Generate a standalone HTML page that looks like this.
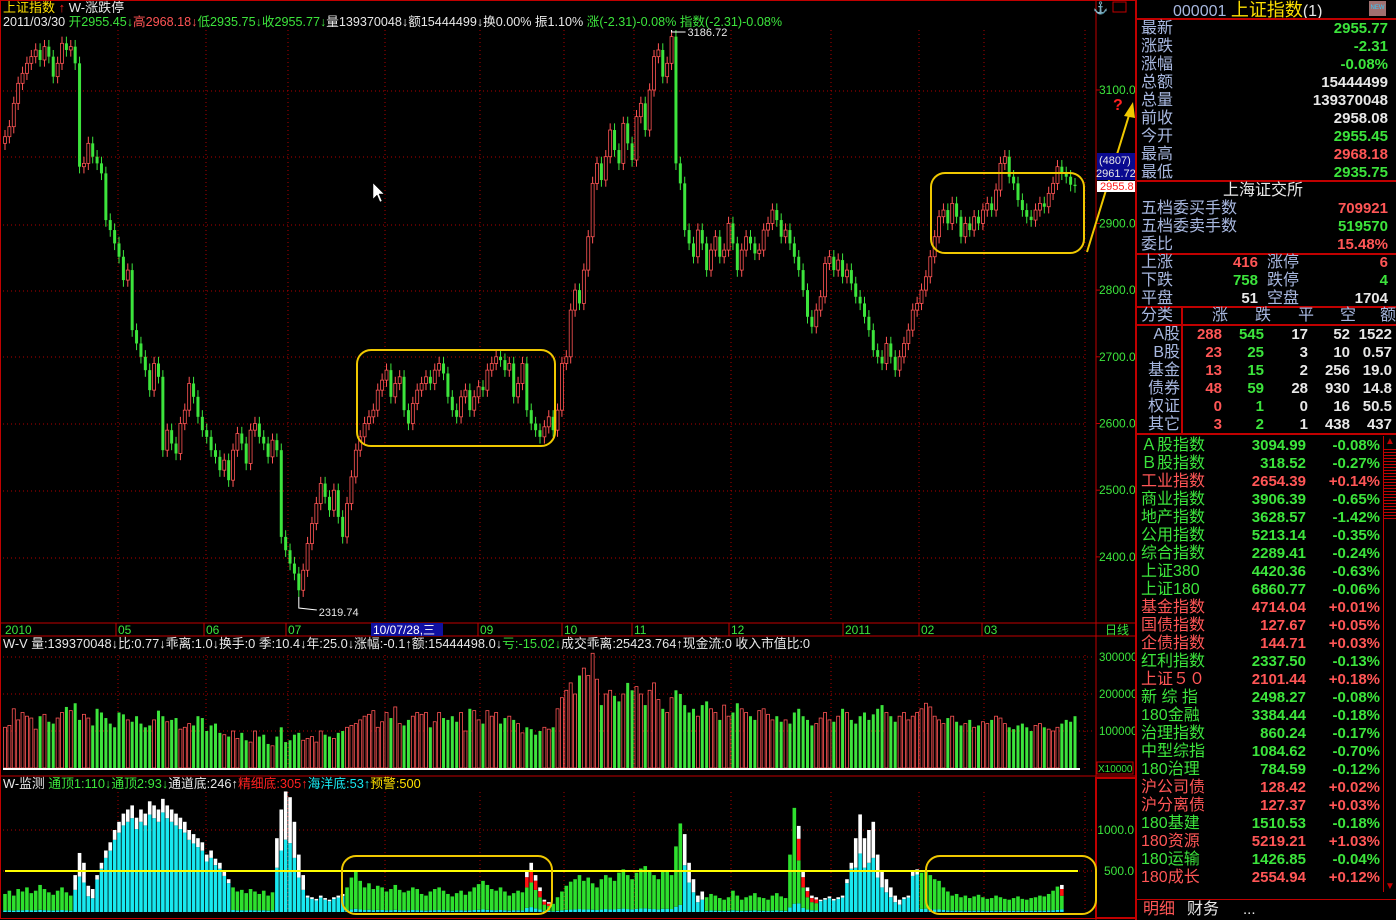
<!DOCTYPE html>
<html><head><meta charset="utf-8">
<style>
body{margin:0;background:#000;width:1396px;height:920px;overflow:hidden;position:relative;font-family:"Liberation Sans","Noto Sans CJK SC",sans-serif;}
svg{position:absolute;left:0;top:0}
.rp{position:absolute;left:1137px;top:0;width:259px;height:920px;}
.r{position:absolute;height:18px;line-height:18px;font-size:15px;white-space:nowrap}
.lb{color:#a8b8e0;font-size:16px}
.g{color:#3ce43c}.rd{color:#ff5656}.w{color:#e8e8e8}.y{color:#ffe000}
.hl{position:absolute;height:2px;background:#c00000;left:0;width:259px}
</style></head><body>
<svg id="chart" width="1396" height="920"></svg>

<div class="rp">
 <div class="r" style="top:1px;left:36px;font-size:16px"><span style="color:#a8b8e0">000001 </span><span class="y" style="font-size:18px">上证指数</span><span class="w">(1)</span></div>
 <div style="position:absolute;left:232px;top:1px;width:17px;height:15px;background:#a07070;color:#3cf;font-size:6px;line-height:15px;text-align:center">NEW</div>
 <div class="hl" style="top:18px"></div>
 <div class="hl" style="top:180px"></div>
 <div class="hl" style="top:253px"></div>
 <div class="hl" style="top:306px"></div>
 <div class="hl" style="top:324px"></div>
 <div class="hl" style="top:433px"></div>
 <div style="position:absolute;left:44px;top:307px;width:2px;height:127px;background:#c00000"></div>
 <div style="position:absolute;left:-2px;top:0;width:2px;height:920px;background:#c00000"></div>
 <div id="rows"></div>
 <div style="position:absolute;left:246px;top:436px;width:12px;height:456px;border-left:1px solid #c00000">
  <div style="color:#c00000;font-size:10px;text-align:center">▲</div>
  <div style="margin:2px 0;height:70px;background:repeating-linear-gradient(#c00000 0 1px,#000 1px 3px)"></div>
  <div style="position:absolute;bottom:0;width:12px;color:#c00000;font-size:10px;text-align:center">▼</div>
 </div>
 <div style="position:absolute;left:0;top:899px;width:259px;height:1px;background:#c00000"></div>
 <div class="r rd" style="top:901px;left:6px;font-size:16px">明细</div>
 <div class="r w" style="top:901px;left:50px;font-size:16px">财务</div>
 <div class="r w" style="top:901px;left:106px">...</div>
</div>

<script>
// ---------- data ----------
const closes=[3030,3045,3080,3110,3125,3140,3150,3160,3145,3165,3150,3120,3140,3170,3160,3165,3140,
2985,2990,3020,3000,2990,2975,2905,2890,2870,2850,2815,2830,2740,2720,2700,2680,2650,2690,2670,2560,
2590,2570,2555,2600,2620,2660,2640,2610,2590,2580,2560,2550,2530,2545,2515,2560,2585,2570,2540,2590,
2600,2580,2570,2550,2575,2560,2430,2410,2390,2375,2350,2380,2420,2450,2480,2510,2490,2470,2500,2460,
2430,2480,2520,2560,2580,2600,2610,2620,2650,2665,2680,2640,2660,2670,2620,2600,2630,2650,2660,2670,
2660,2680,2690,2675,2640,2620,2610,2640,2650,2620,2640,2655,2650,2680,2690,2700,2695,2680,2690,2640,
2660,2690,2620,2600,2590,2580,2595,2610,2590,2620,2690,2700,2770,2800,2780,2830,2880,2960,2990,2965,
3000,3040,3010,2990,3050,3020,2995,3060,3080,3040,3100,3150,3160,3120,3140,3180,2990,2960,2890,2870,
2850,2890,2870,2830,2860,2880,2850,2860,2900,2870,2830,2860,2880,2870,2855,2860,2890,2900,2920,2905,
2880,2890,2870,2850,2830,2800,2760,2745,2770,2790,2840,2850,2830,2845,2820,2830,2810,2790,2780,2760,
2740,2710,2700,2690,2720,2700,2680,2700,2720,2740,2770,2780,2800,2820,2850,2880,2910,2920,2900,2930,
2910,2880,2900,2890,2910,2900,2920,2930,2920,2950,2990,3000,2970,2960,2935,2920,2910,2905,2920,2930,
2925,2945,2960,2985,2975,2970,2958,2956];
const volumes=[110,115,160,130,150,140,135,105,140,145,125,120,135,150,165,155,
175,130,145,135,115,160,150,135,120,110,150,145,130,125,140,
120,110,115,130,155,140,125,130,135,105,110,120,115,140,135,
100,115,120,95,90,85,100,80,95,75,70,100,85,90,65,60,
85,110,70,75,90,95,75,80,85,70,100,90,85,80,95,100,110,115,120,
130,140,145,155,110,125,150,135,165,120,115,130,140,150,145,150,110,125,150,135,
130,140,125,150,100,160,155,130,120,155,140,150,120,135,140,130,120,95,110,105,90,100,110,105,110,
160,190,210,230,200,250,270,250,310,240,170,200,210,195,180,200,230,210,220,200,170,210,230,185,160,150,190,210,200,170,
150,160,140,170,180,160,150,130,170,140,150,175,160,150,140,130,155,160,145,130,
140,125,130,120,150,160,140,130,115,120,135,150,130,125,140,160,150,130,120,140,150,130,145,160,170,150,140,125,140,150,
130,140,150,160,175,165,140,130,120,135,140,125,115,120,130,110,115,125,120,130,140,135,120,110,105,115,120,110,100,115,120,110,105,100,110,120,130,125,140,150,160,170,155,130];
const monitor=[220,260,200,280,250,300,230,260,330,280,240,210,260,300,240,200,
450,720,600,320,280,
450,600,750,850,1000,1100,1200,1250,1300,1150,1250,1200,1350,1300,1250,1380,1300,1250,1200,1150,1100,1000,950,900,850,700,750,650,600,500,400,
300,250,270,230,280,250,220,260,200,240,
900,1250,1470,1400,1100,700,450,
200,180,160,200,170,150,180,200,220,
300,420,500,380,300,350,280,320,300,250,280,330,270,240,260,300,280,220,200,250,280,300,260,220,190,230,260,210,250,300,340,380,330,280,260,300,250,200,230,260,240,
500,600,450,300,
150,120,100,180,250,320,370,
400,450,380,420,350,300,400,450,420,380,480,520,450,400,480,530,560,500,450,400,500,
500,450,800,1080,950,600,400,
200,250,180,220,200,170,150,180,260,200,150,180,200,230,180,170,150,200,230,190,170,
700,1270,1050,500,300,
200,180,150,170,190,160,180,200,
400,600,900,1190,900,1000,1100,700,500,400,300,
200,150,180,200,
500,520,480,510,450,400,380,300,
250,200,220,180,200,170,190,210,180,160,170,200,180,160,150,170,190,160,150,170,180,200,190,220,260,310,330];
// segments of monitor bar kind: [startIndex, kind]
const monKinds=[[0,'g'],[16,'w'],[21,'c'],[52,'g'],[62,'w'],[69,'c'],[78,'g'],[119,'r'],[125,'g'],[155,'w'],[160,'g'],[181,'r'],[186,'c'],[194,'w'],[205,'c'],[209,'g'],[241,'r']];
const priceTicks=[3100,2900,2800,2700,2600,2500,2400];
const volTicks=[300000,200000,100000];
const monTicks=[1000,500];
const dateLabels=['2010','05','06','07','09','10','11','12','2011','02','03'];

// ---------- axes ----------
const X0=5, X1=1075;
const step=(X1-X0)/(closes.length-1);
const xOf=i=>X0+i*step;
const yP=p=>90+(3100-p)*0.667;
const yV=v=>768-v*0.00037;
const yM=m=>912-m*0.082;

const NS='http://www.w3.org/2000/svg';
const svg=document.getElementById('chart');
function mk(tag,attrs,parent){const e=document.createElementNS(NS,tag);for(const k in attrs)e.setAttribute(k,attrs[k]);(parent||svg).appendChild(e);return e;}
function txt(s,x,y,fill,size,anchor,parent){const t=mk('text',{x:x,y:y,fill:fill,'font-size':size||11,'text-anchor':anchor||'start','font-family':'Liberation Sans, Noto Sans CJK SC, sans-serif'},parent);t.textContent=s;return t;}

const RED='#c00000';
mk('rect',{x:0.5,y:0.5,width:1135,height:918,fill:'none',stroke:RED});
mk('line',{x1:1096,y1:0,x2:1096,y2:920,stroke:RED});
[623,636,776].forEach(y=>mk('line',{x1:0,y1:y,x2:1136,y2:y,stroke:RED}));
mk('rect',{x:1096,y:778,width:40,height:140,fill:'none',stroke:RED,'stroke-width':2});

const gPrice=mk('g',{});


[91,157,225,291,357,424,491,558].forEach(y=>mk('line',{x1:3,y1:y,x2:1085,y2:y,stroke:'#b00000','stroke-dasharray':'1,3'},gPrice));
const vgrid=[118,206,288,385,480,564,634,731,831,919,984,1085];
vgrid.forEach(x=>{mk('line',{x1:x,y1:30,x2:x,y2:620,stroke:'#b00000','stroke-dasharray':'1,3'},gPrice);
 mk('line',{x1:x,y1:655,x2:x,y2:770,stroke:'#b00000','stroke-dasharray':'1,3'},gPrice);
 mk('line',{x1:x,y1:792,x2:x,y2:912,stroke:'#b00000','stroke-dasharray':'1,3'},gPrice);});
[657,694,731].forEach(y=>mk('line',{x1:3,y1:y,x2:1095,y2:y,stroke:'#b00000','stroke-dasharray':'1,3'}));
[830,871].forEach(y=>mk('line',{x1:3,y1:y,x2:1095,y2:y,stroke:'#b00000','stroke-dasharray':'1,3'}));

priceTicks.forEach(p=>{const t=txt(p.toFixed(1),1099,yP(p)+4,'#3ce43c',12);
 
 
 mk('line',{x1:1096,y1:yP(p),x2:1100,y2:yP(p),stroke:RED});});
volTicks.forEach(v=>{const t=txt(String(v),1099,yV(v)+4,'#3ce43c',11.5);
 
 });
monTicks.forEach(m=>{const t=txt(m.toFixed(1),1134,yM(m)+4,'#3ce43c',12,'end');
 
 });
mk('rect',{x:1097,y:762,width:36,height:12,fill:'none',stroke:RED});
txt('X10000',1098,772,'#3ce43c',10);

const dateX=[5,118,206,288,480,564,634,731,845,921,984];
dateLabels.forEach((d,i)=>{const t=txt(d,dateX[i],634,'#3ce43c',12);
 
 
 if(i>0)mk('line',{x1:dateX[i]-2,y1:623,x2:dateX[i]-2,y2:636,stroke:RED});});
mk('rect',{x:371,y:623,width:72,height:13,fill:'#1010a0'});
txt('10/07/28,三',373,634,'#fff',12);
const dl=txt('日线',1105,634,'#3ce43c',12);



const gC=mk('g',{});


closes.forEach((c,i)=>{
 const o=i===0?c-10:closes[i-1];
 const up=c>=o, x=xOf(i);
 const col=up?'#ff5454':'#3ce43c';
 const hi=Math.max(o,c)+10, lo=Math.min(o,c)-10;
 const w=mk('line',{x1:x,y1:yP(hi),x2:x,y2:yP(lo),stroke:col},gC);
 
 
 const top=yP(Math.max(o,c)), h=Math.max(1,Math.abs(yP(o)-yP(c)));
 const b=mk('rect',{x:x-1.5,y:top,width:3,height:h,fill:up?'#000':col,stroke:col,'stroke-width':up?0.8:0},gC);
 
 
});
let maxI=0,minI=0;closes.forEach((c,i)=>{if(c>closes[maxI])maxI=i;if(c<closes[minI])minI=i;});
mk('polyline',{points:`${xOf(maxI)},${yP(closes[maxI]+10)} ${xOf(maxI)},32 ${xOf(maxI)+14},32`,fill:'none',stroke:'#fff'});
txt('3186.72',xOf(maxI)+16,36,'#e8e8e8',11);
mk('polyline',{points:`${xOf(minI)},${yP(closes[minI]-10)} ${xOf(minI)},608 ${xOf(minI)+18},610`,fill:'none',stroke:'#fff'});
txt('2319.74',xOf(minI)+20,616,'#e8e8e8',11);

const gV=mk('g',{});


volumes.forEach((v,i)=>{if(i>=closes.length)return;
 const o=i===0?closes[0]-10:closes[i-1];const up=closes[i]>=o;
 const col=up?'#ff5454':'#3ce43c';const y=yV(v*1000);
 const r=mk('rect',{x:xOf(i)-1.5,y:y,width:3,height:768-y,fill:up?'#000':col,stroke:col,'stroke-width':up?0.8:0},gV);
 
 });
mk('line',{x1:3,y1:769,x2:1080,y2:769,stroke:'#fff','stroke-width':2});

function kindAt(i){let k='g';monKinds.forEach(s=>{if(i>=s[0])k=s[1];});return k;}
const gM=mk('g',{});


monitor.forEach((m,i)=>{if(i>=closes.length)return;
 const k=kindAt(i),x=xOf(i)-1.8,y=yM(m),h=912-y;
 let parts;
 if(k==='c')parts=[['#18e8f0',0.88],['#fff',0.12]];
 else if(k==='w')parts=[['#18e8f0',0.6],['#fff',0.4]];
 else if(k==='r')parts=[['#18e8f0',0.1],['#2ee02e',0.5],['#ff1010',0.25],['#fff',0.15]];
 else parts=[['#18e8f0',0.08],['#2ee02e',0.92]];
 let yy=912;
 parts.forEach(p=>{const ph=h*p[1];yy-=ph;const r=mk('rect',{x:x,y:yy,width:3.6,height:ph,fill:p[0]},gM);
  
  });
});
mk('line',{x1:5,y1:yM(500),x2:1078,y2:yM(500),stroke:'#ffff00','stroke-width':2});

[[357,350,198,96],[931,173,153,80],[342,856,210,58],[926,856,170,58]].forEach(b=>{
 const r=mk('rect',{x:b[0],y:b[1],width:b[2],height:b[3],rx:14,fill:'none',stroke:'#f0c800','stroke-width':2});
 
 });
mk('line',{x1:1087,y1:252,x2:1130,y2:112,stroke:'#f0c800','stroke-width':2});
mk('polygon',{points:'1133,102 1124,116 1135,118',fill:'#f0c800'});
txt('?',1113,110,'#ff2020',16).setAttribute('font-weight','bold');

mk('rect',{x:1097,y:153,width:39,height:27,fill:'#0a0a90'});
txt('(4807)',1099,164,'#e8e8e8',11);txt('2961.72',1096,177,'#e8e8e8',11);
mk('rect',{x:1097,y:181,width:39,height:11,fill:'#fff'});
txt('2955.8',1100,190,'#ff2020',11);

mk('polygon',{points:'373,183 373,199 377,195 380,202 382,201 379,194 384,194',fill:'#fff',stroke:'#000','stroke-width':0.5});
txt('⚓',1093,12,'#ccc',12);
mk('rect',{x:1113,y:2,width:13,height:10,fill:'none',stroke:RED});

const h1=mk('text',{x:3,y:12,'font-size':13,'font-family':'Liberation Sans, Noto Sans CJK SC, sans-serif'});
h1.innerHTML='<tspan fill="#ffe000">上证指数</tspan><tspan fill="#ff2020"> ↑ </tspan><tspan fill="#e8e8e8">W-涨跌停</tspan>';


const h2=mk('text',{x:3,y:26,'font-size':12.6,'font-family':'Liberation Sans, Noto Sans CJK SC, sans-serif'});
h2.innerHTML='<tspan fill="#e8e8e8">2011/03/30 </tspan><tspan fill="#3ce43c">开2955.45↓</tspan><tspan fill="#ff5454">高2968.18↓</tspan><tspan fill="#3ce43c">低2935.75↓收2955.77↓</tspan><tspan fill="#e8e8e8">量139370048↓额15444499↓换0.00% 振1.10% </tspan><tspan fill="#3ce43c">涨(-2.31)-0.08% 指数(-2.31)-0.08%</tspan>';


const h3=mk('text',{x:3,y:648,'font-size':12.8,'font-family':'Liberation Sans, Noto Sans CJK SC, sans-serif'});
h3.innerHTML='<tspan fill="#e8e8e8">W-V 量:139370048↓比:0.77↓乖离:1.0↓换手:0 季:10.4↓年:25.0↓涨幅:-0.1↑额:15444498.0↓</tspan><tspan fill="#3ce43c">亏:-15.02↓</tspan><tspan fill="#e8e8e8">成交乖离:25423.764↑现金流:0 收入市值比:0</tspan>';


const h4=mk('text',{x:3,y:788,'font-size':12.8,'font-family':'Liberation Sans, Noto Sans CJK SC, sans-serif'});
h4.innerHTML='<tspan fill="#e8e8e8">W-监测 </tspan><tspan fill="#3ce43c">通顶1:110↓通顶2:93↓</tspan><tspan fill="#e8e8e8">通道底:246↑</tspan><tspan fill="#ff2020">精细底:305↑</tspan><tspan fill="#18e8f0">海洋底:53↑</tspan><tspan fill="#ffe000">预警:500</tspan>';



const rows=document.getElementById('rows');
function row(top,html){const d=document.createElement('div');d.className='r';d.style.top=top+'px';d.style.left='0';d.style.width='255px';d.innerHTML=html;rows.appendChild(d);return d;}
const L=(s,x)=>`<span class="lb" style="position:absolute;left:${x}px">${s}</span>`;
const V=(s,c,right)=>`<span class="${c}" style="position:absolute;right:${right}px;font-weight:bold">${s}</span>`;
const quote=[['最新','2955.77','g'],['涨跌','-2.31','g'],['涨幅','-0.08%','g'],['总额','15444499','w'],['总量','139370048','w'],['前收','2958.08','w'],['今开','2955.45','g'],['最高','2968.18','rd'],['最低','2935.75','g']];
quote.forEach((q,i)=>{const d=row(20+i*18,L(q[0],4)+V(q[1],q[2],4));
 
 });
row(182,`<span class="w" style="position:absolute;left:86px;font-size:16px">上海证交所</span>`);
[['五档委买手数','709921','rd'],['五档委卖手数','519570','g'],['委比','15.48%','rd']].forEach((q,i)=>row(200+i*18,L(q[0],4)+V(q[1],q[2],4)));
[['上涨','416','rd','涨停','6','rd'],['下跌','758','g','跌停','4','g'],['平盘','51','w','空盘','1704','w']].forEach((q,i)=>
 row(254+i*18,L(q[0],4)+V(q[1],q[2],134)+L(q[3],130)+V(q[4],q[5],4)));
row(307,L('分类',4)+L('涨',75)+L('跌',118)+L('平',161)+L('空',203)+L('额',243));
[['A股','288','545','17','52','1522'],['B股','23','25','3','10','0.57'],['基金','13','15','2','256','19.0'],['债券','48','59','28','930','14.8'],['权证','0','1','0','16','50.5'],['其它','3','2','1','438','437']].forEach((q,i)=>
 row(326+i*18,`<span class="lb" style="position:absolute;right:212px">${q[0]}</span>`+V(q[1],'rd',170)+V(q[2],'g',128)+V(q[3],'w',84)+V(q[4],'w',42)+V(q[5],'w',0)));
const idx=[['Ａ股指数','3094.99','-0.08%','g'],['Ｂ股指数','318.52','-0.27%','g'],['工业指数','2654.39','+0.14%','rd'],['商业指数','3906.39','-0.65%','g'],['地产指数','3628.57','-1.42%','g'],['公用指数','5213.14','-0.35%','g'],['综合指数','2289.41','-0.24%','g'],['上证380','4420.36','-0.63%','g'],['上证180','6860.77','-0.06%','g'],['基金指数','4714.04','+0.01%','rd'],['国债指数','127.67','+0.05%','rd'],['企债指数','144.71','+0.03%','rd'],['红利指数','2337.50','-0.13%','g'],['上证５０','2101.44','+0.18%','rd'],['新 综 指','2498.27','-0.08%','g'],['180金融','3384.44','-0.18%','g'],['治理指数','860.24','-0.17%','g'],['中型综指','1084.62','-0.70%','g'],['180治理','784.59','-0.12%','g'],['沪公司债','128.42','+0.02%','rd'],['沪分离债','127.37','+0.03%','rd'],['180基建','1510.53','-0.18%','g'],['180资源','5219.21','+1.03%','rd'],['180运输','1426.85','-0.04%','g'],['180成长','2554.94','+0.12%','rd']];
idx.forEach((q,i)=>{const d=row(437+i*18,`<span class="${q[3]}" style="position:absolute;left:4px;font-size:16px">${q[0]}</span>`+V(q[1],q[3],86)+V(q[2],q[3],12));
 
 });
</script>
</body></html>
